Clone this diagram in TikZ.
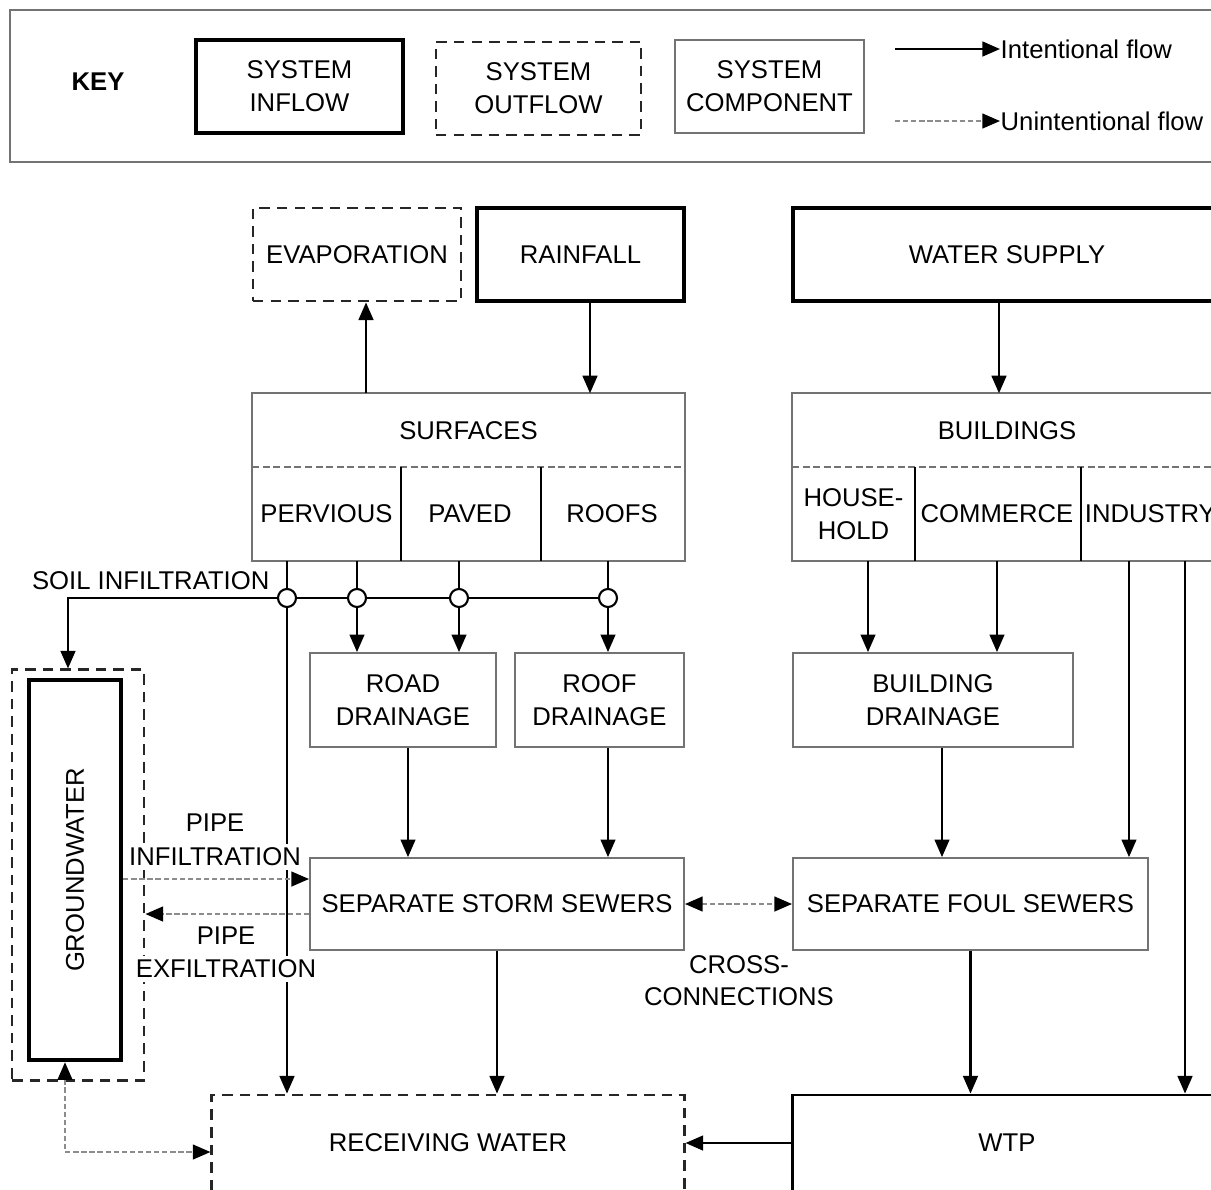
\documentclass[tikz,border=0pt]{standalone}
\usepackage{fontspec}
\setmainfont{Liberation Sans}
\usetikzlibrary{arrows.meta}

\begin{document}
\begin{tikzpicture}
  [x=0.01cm, y=-0.01cm,
   font=\fontsize{7.3}{9.4}\selectfont,
   box/.style={rectangle, inner sep=0pt, align=center},
   frame/.style={draw=black!55, line width=0.5pt},
   inflow/.style={box, draw=black, line width=1.2pt},
   outflow/.style={box, draw=black!85, line width=0.8pt, dash pattern=on 3pt off 2pt},
   component/.style={box, frame},
   plant/.style={box, draw=black, line width=0.8pt},
   cell/.style={box},
   part/.style={draw=black, line width=0.7pt},
   divider/.style={draw=black!55, line width=0.5pt, dash pattern=on 2pt off 1pt},
   flowtext/.style={inner sep=1pt, fill=white},
   joint/.style={circle, draw, fill=white, inner sep=0pt, minimum size=0.18cm, line width=0.6pt},
   pipe/.style={line width=0.6pt},
   flow/.style={pipe, -{Triangle[length=5pt,width=4.2pt]}},
   leak/.style={draw=black!45, line width=0.5pt, dash pattern=on 1.5pt off 0.8pt,
                -{Triangle[length=5pt,width=4.2pt,color=black]}},
   leaktwo/.style={leak, {Triangle[length=5pt,width=4.2pt,color=black]}-{Triangle[length=5pt,width=4.2pt,color=black]}}]
  \useasboundingbox (0,0) rectangle (1211,1190);
  \clip (0,0) rectangle (1211,1190);

  % key
  \node[component, minimum width=12.11cm, minimum height=1.52cm] (legend) at (615.5,86) {};
  \node[font=\fontsize{7.3}{9.4}\selectfont\bfseries] (keytxt) at (98,82) {KEY};
  \node[inflow, minimum width=2.07cm, minimum height=0.93cm] (kin) at (299.5,86.5) {SYSTEM\\INFLOW};
  \node[outflow, minimum width=2.05cm, minimum height=0.93cm] (kout) at (538.5,88.5) {SYSTEM\\OUTFLOW};
  \node[component, minimum width=1.89cm, minimum height=0.93cm] (kcomp) at (769.5,86.5) {SYSTEM\\COMPONENT};
  \coordinate (kia) at (895,49);
  \node[anchor=west, inner sep=0pt] (kint) at (1000,49) {Intentional flow};
  \draw[flow] (kia) -- (kint.west);
  \coordinate (kua) at (895,121);
  \node[anchor=west, inner sep=0pt] (kuni) at (1000,121) {Unintentional flow};
  \draw[leak] (kua) -- (kuni.west);

  % inflows and outflows
  \node[outflow, minimum width=2.08cm, minimum height=0.93cm] (evap) at (357,254.5) {EVAPORATION};
  \node[inflow, minimum width=2.07cm, minimum height=0.93cm] (rain) at (580.5,254.5) {RAINFALL};
  \node[inflow, minimum width=4.28cm, minimum height=0.93cm] (supply) at (1007,254.5) {WATER SUPPLY};

  % surfaces
  \node[cell, minimum width=4.31cm, minimum height=0.74cm] (surf) at (468.5,431) {SURFACES};
  \node[cell, minimum width=1.47cm, minimum height=0.92cm] (perv) at (326.5,514) {PERVIOUS};
  \node[cell, minimum width=1.40cm, minimum height=0.92cm] (paved) at (470,514) {PAVED};
  \node[cell, minimum width=1.44cm, minimum height=0.92cm] (roofs) at (612,514) {ROOFS};
  \draw[frame] (surf.north west) rectangle (roofs.south east);
  \draw[divider] (perv.north west) -- (roofs.north east);
  \draw[part] (perv.north east) -- (perv.south east);
  \draw[part] (paved.north east) -- (paved.south east);

  % buildings
  \node[cell, minimum width=4.28cm, minimum height=0.74cm] (bldg) at (1007,431) {BUILDINGS};
  \node[cell, minimum width=1.21cm, minimum height=0.92cm] (house) at (853.5,514) {HOUSE-\\HOLD};
  \node[cell, minimum width=1.66cm, minimum height=0.92cm] (comm) at (997,514) {COMMERCE};
  \node[cell, minimum width=1.41cm, minimum height=0.92cm] (ind) at (1150.5,514) {};
  \node[anchor=west, inner sep=0pt] (indtxt) at ([xshift=0.05cm]ind.west) {INDUSTRY};
  \draw[frame] (bldg.north west) rectangle (ind.south east);
  \draw[divider] (house.north west) -- (ind.north east);
  \draw[part] (house.north east) -- (house.south east);
  \draw[part] (comm.north east) -- (comm.south east);

  % drainage
  \node[component, minimum width=1.86cm, minimum height=0.94cm] (road) at (403,700) {ROAD\\DRAINAGE};
  \node[component, minimum width=1.69cm, minimum height=0.94cm] (roofd) at (599.5,700) {ROOF\\DRAINAGE};
  \node[component, minimum width=2.80cm, minimum height=0.94cm] (bdrain) at (933,700) {BUILDING\\DRAINAGE};

  % groundwater
  \node[outflow, minimum width=1.32cm, minimum height=4.10cm] (gwzone) at (78,875) {};
  \node[inflow, minimum width=0.92cm, minimum height=3.80cm] (gw) at (75,870) {\rotatebox{90}{GROUNDWATER}};

  % sewers and outlets
  \node[component, minimum width=3.74cm, minimum height=0.92cm] (storm) at (497,904) {SEPARATE STORM SEWERS};
  \node[component, minimum width=3.55cm, minimum height=0.92cm] (foul) at (970.5,904) {SEPARATE FOUL SEWERS};
  \node[outflow, minimum width=4.72cm, minimum height=0.96cm] (recv) at (448,1143) {RECEIVING WATER};
  \node[plant, minimum width=4.28cm, minimum height=0.96cm] (wtp) at (1007,1143) {WTP};

  % junctions
  \node[joint] (j1) at (287,598) {};
  \node[joint] (j2) at (357,598) {};
  \node[joint] (j3) at (459,598) {};
  \node[joint] (j4) at (608,598) {};
  \coordinate (soil) at (68,598);
  \node[anchor=east, inner sep=0pt] (soiltxt) at (270,581) {SOIL INFILTRATION};

  % intentional flows
  \coordinate (evapx) at ([xshift=0.09cm]evap.south);
  \draw[flow] (evapx |- surf.north) -- (evapx);
  \coordinate (rainx) at ([xshift=0.095cm]rain.south);
  \draw[flow] (rainx) -- (rainx |- surf.north);
  \coordinate (supplyx) at ([xshift=-0.08cm]supply.south);
  \draw[flow] (supplyx) -- (supplyx |- bldg.north);

  \draw[pipe] (j1 |- perv.south) -- (j1);
  \draw[pipe] (j2 |- perv.south) -- (j2);
  \draw[pipe] (j3 |- paved.south) -- (j3);
  \draw[pipe] (j4 |- roofs.south) -- (j4);
  \draw[pipe] (j4) -- (j3);
  \draw[pipe] (j3) -- (j2);
  \draw[pipe] (j2) -- (j1);
  \draw[flow] (j1) -- (soil) -- (soil |- gwzone.north);
  \draw[flow] (j2) -- (j2 |- road.north);
  \draw[flow] (j3) -- (j3 |- road.north);
  \draw[flow] (j4) -- (j4 |- roofd.north);

  \coordinate (housex) at ([xshift=0.145cm]house.south);
  \draw[flow] (housex) -- (housex |- bdrain.north);
  \draw[flow] (comm.south) -- (comm.south |- bdrain.north);
  \coordinate (indx) at ([xshift=-0.215cm]ind.south);
  \coordinate (indy) at ([xshift=0.345cm]ind.south);
  \draw[flow] (indx) -- (indx |- foul.north);
  \draw[flow] (indy) -- (indy |- wtp.north);

  \coordinate (roadx) at ([xshift=0.05cm]road.south);
  \draw[flow] (roadx) -- (roadx |- storm.north);
  \draw[flow] (j4 |- roofd.south) -- (j4 |- storm.north);
  \coordinate (bdrainx) at ([xshift=0.09cm]bdrain.south);
  \draw[flow] (bdrainx) -- (bdrainx |- foul.north);

  \draw[flow] (storm.south) -- (storm.south |- recv.north);
  \draw[flow] (foul.south) -- (foul.south |- wtp.north);
  \draw[flow] (wtp.west) -- (recv.east);
  \draw[flow] (j1) -- (j1 |- recv.north);

  % unintentional flows
  \coordinate (infl) at ([yshift=-0.09cm]gw.east);
  \draw[leak] (infl) -- (infl -| storm.west);
  \coordinate (exfl) at ([yshift=-0.10cm]storm.west);
  \draw[leak] (exfl) -- (exfl -| gwzone.east);
  \draw[leaktwo] (storm.east) -- (foul.west);
  \coordinate (gwx) at ([xshift=-0.10cm]gw.south);
  \coordinate (rwy) at ([yshift=-0.09cm]recv.west);
  \draw[leaktwo] (gwx) -- (gwx |- rwy) -- (rwy);

  % flow texts
  \node[flowtext] (pinfa) at (215,823) {PIPE};
  \node[flowtext] (pinfb) at (215,857) {INFILTRATION};
  \node[flowtext] (pexfa) at (226,936) {PIPE};
  \node[flowtext] (pexfb) at (226,969) {EXFILTRATION};
  \node[flowtext] (crossa) at (739,965) {CROSS-};
  \node[flowtext] (crossb) at (739,997) {CONNECTIONS};
\end{tikzpicture}
\end{document}
